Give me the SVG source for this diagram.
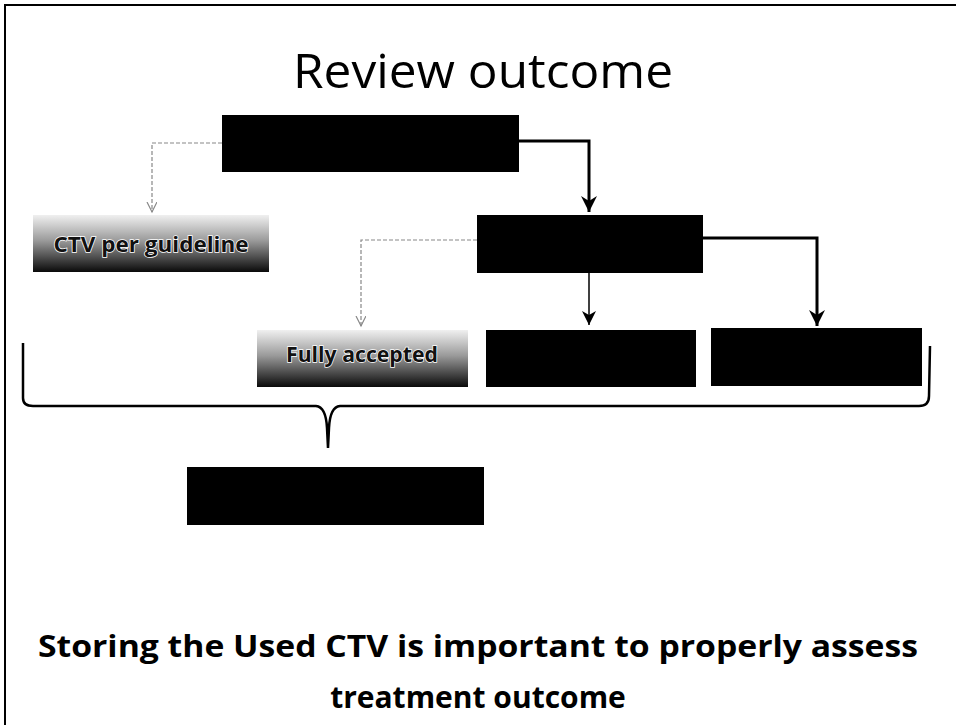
<svg xmlns="http://www.w3.org/2000/svg" width="956" height="725" viewBox="0 0 956 725">
<style>
.blk{fill:#000}
.grad{fill:url(#g)}
.lbl{font-family:"Open Sans","Liberation Sans",sans-serif;font-weight:700;font-size:22px;fill:#111;stroke:#fff;stroke-width:1.5px;paint-order:stroke;text-anchor:middle}
.title{font-family:"Open Sans","Liberation Sans",sans-serif;font-size:48px;fill:#000}
.note{font-family:"Open Sans","Liberation Sans",sans-serif;font-weight:700;font-size:30px;fill:#000}
.thick{fill:none;stroke:#000;stroke-width:3}
.thin{fill:none;stroke:#000;stroke-width:1.5}
.dash{fill:none;stroke:#888;stroke-width:1.2;stroke-dasharray:4 2}
</style>
<defs>
<linearGradient id="g" x1="0" y1="0" x2="0" y2="1">
<stop offset="0" stop-color="#f0f0f0"/>
<stop offset="0.45" stop-color="#9a9a9a"/>
<stop offset="1" stop-color="#0a0a0a"/>
</linearGradient>
<marker id="ah" markerUnits="userSpaceOnUse" markerWidth="18" markerHeight="20" refX="16" refY="8" orient="auto">
<path d="M0,0 L16,8 L0,16 L5,8 Z" fill="#000"/>
</marker>
<marker id="at" markerUnits="userSpaceOnUse" markerWidth="16" markerHeight="16" refX="14" refY="7" orient="auto">
<path d="M0,0 L14,7 L0,14 L4,7 Z" fill="#000"/>
</marker>
<marker id="ad" markerUnits="userSpaceOnUse" markerWidth="12" markerHeight="12" refX="10" refY="5" orient="auto">
<path d="M0,0 L10,5 L0,10" fill="none" stroke="#888" stroke-width="1.2"/>
</marker>
</defs>
<rect width="956" height="725" fill="#fff"/>
<g id="frame"><path d="M5,725 L5,5 L956,5" fill="none" stroke="#000" stroke-width="2"/></g>
<g id="title"><text class="title" x="293" y="88" textLength="380" lengthAdjust="spacingAndGlyphs">Review outcome</text></g>
<g id="connectors">
<path class="thick" d="M519,141 L589,141 L589,212" marker-end="url(#ah)"/>
<path class="thick" d="M703,238 L817,238 L817,326" marker-end="url(#ah)"/>
<path class="thin" d="M589,273 L589,325" marker-end="url(#at)"/>
<path class="dash" d="M222,143 L152,143 L152,212" marker-end="url(#ad)"/>
<path class="dash" d="M477,240 L361,240 L361,326" marker-end="url(#ad)"/>
<path d="M23,343 L23,398 Q23,406 33,406 L316,406 Q326,407 327,428 L328,448 L329,428 Q330,407 340,406 L919,406 Q929,406 929,396 L930,346" fill="none" stroke="#000" stroke-width="2.5"/>
</g>
<g id="n1"><rect class="blk" x="222" y="115" width="297" height="57"/></g>
<g id="n2"><rect class="grad" x="33" y="215" width="236" height="57"/><text class="lbl" x="151" y="252" textLength="195" lengthAdjust="spacingAndGlyphs">CTV per guideline</text></g>
<g id="n3"><rect class="blk" x="477" y="215" width="226" height="58"/></g>
<g id="n4"><rect class="grad" x="257" y="330" width="211" height="57"/><text class="lbl" x="362" y="362" textLength="152" lengthAdjust="spacingAndGlyphs">Fully accepted</text></g>
<g id="n5"><rect class="blk" x="486" y="330" width="210" height="57"/></g>
<g id="n6"><rect class="blk" x="711" y="328" width="211" height="58"/></g>
<g id="n7"><rect class="blk" x="187" y="467" width="297" height="58"/></g>
<g id="note">
<text class="note" x="38" y="657" textLength="880" lengthAdjust="spacingAndGlyphs">Storing the Used CTV is important to properly assess</text>
<text class="note" x="478" y="708" text-anchor="middle">treatment outcome</text>
</g>
</svg>
